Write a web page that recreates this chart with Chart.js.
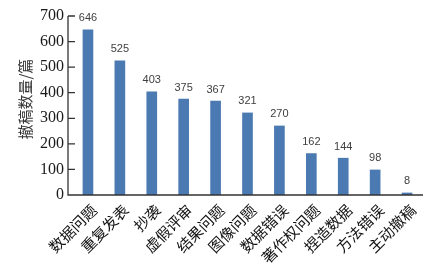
<!DOCTYPE html>
<html>
<head>
<meta charset="utf-8">
<script src="https://cdn.jsdelivr.net/npm/chart.js@4"></script>
<style>
  body { margin: 0; background: #fff; }
</style>
</head>
<body>
<canvas id="grafico" width="437" height="269"></canvas>
<script>
/* datos del gráfico */
const categorias = ['数据问题', '重复发表', '抄袭', '虚假评审', '结果问题', '图像问题', '数据错误', '著作权问题', '捏造数据', '方法错误', '主动撤稿'];
const valores = [646, 525, 403, 375, 367, 321, 270, 162, 144, 98, 8];
const ticksY = [0, 100, 200, 300, 400, 500, 600, 700];
const tituloY = '撤稿数量/篇';

// ejes dibujados a mano: línea del eje y con marcas hacia dentro
const ejes = {
  id: 'ejes',
  afterDraw(chart) {
    const { ctx, chartArea } = chart;
    const y = chart.scales.y;
    const x0 = chartArea.left - 4;
    ctx.save();
    ctx.strokeStyle = '#333';
    ctx.lineWidth = 1.3;
    ctx.beginPath();
    ctx.moveTo(x0, y.getPixelForValue(700));
    ctx.lineTo(x0, y.getPixelForValue(0));
    ctx.lineTo(chartArea.right, y.getPixelForValue(0));
    ticksY.forEach(v => {
      const py = y.getPixelForValue(v);
      ctx.moveTo(x0, py);
      ctx.lineTo(x0 + 7, py);
    });
    ctx.stroke();

    // título del eje y, un poco por encima del centro
    ctx.translate(25, y.getPixelForValue(375));
    ctx.rotate(-Math.PI / 2);
    ctx.font = '15px "Noto Sans CJK SC"';
    ctx.fillStyle = '#333';
    ctx.textAlign = 'center';
    ctx.textBaseline = 'middle';
    ctx.fillText(tituloY, 0, 0);
    ctx.restore();
  }
};

// etiquetas de valor sobre cada barra
const etiquetas = {
  id: 'etiquetas',
  afterDatasetsDraw(chart) {
    const { ctx } = chart;
    const meta = chart.getDatasetMeta(0);
    ctx.save();
    ctx.font = '11px "Liberation Sans", sans-serif';
    ctx.fillStyle = '#404040';
    ctx.textAlign = 'center';
    ctx.textBaseline = 'bottom';
    meta.data.forEach((bar, i) => {
      ctx.fillText(valores[i], bar.x, bar.y - 6);
    });
    ctx.restore();
  }
};

new Chart(document.getElementById('grafico'), {
  type: 'bar',
  data: {
    labels: categorias,
    datasets: [{
      data: valores,
      backgroundColor: '#4b79b1',
      barThickness: 10
    }]
  },
  plugins: [ejes, etiquetas],
  options: {
    responsive: false,
    animation: false,
    layout: { padding: { top: 6, right: 14, left: 0, bottom: 0 } },
    plugins: {
      legend: { display: false },
      tooltip: { enabled: false }
    },
    scales: {
      x: {
        grid: { display: false, drawTicks: false },
        border: { display: false },
        ticks: {
          maxRotation: 45,
          minRotation: 45,
          padding: 6,
          labelOffset: 6,
          color: '#111',
          font: { family: '"Noto Sans CJK SC"', size: 15 }
        },
        afterFit(scale) { scale.height = 74; }
      },
      y: {
        min: 0,
        max: 700,
        grid: { display: false, drawTicks: false },
        border: { display: false },
        afterBuildTicks(scale) { scale.ticks = ticksY.map(v => ({ value: v })); },
        ticks: {
          padding: 8,
          color: '#1a1a1a',
          font: { family: '"Liberation Serif"', size: 16, lineHeight: 1 }
        },
        afterFit(scale) { scale.width = 72; }
      }
    }
  }
});
</script>
</body>
</html>
